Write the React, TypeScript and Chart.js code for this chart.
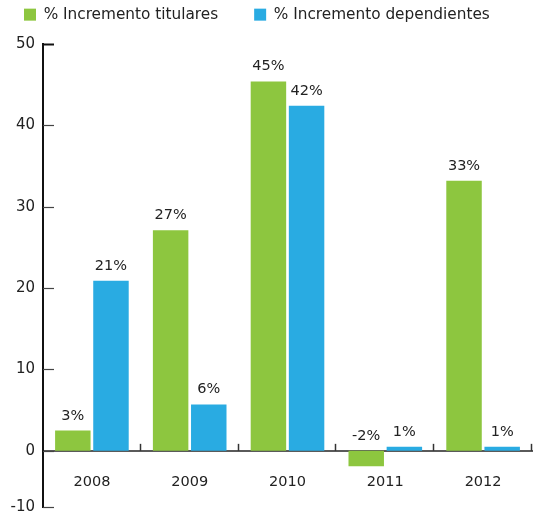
import React, { useEffect, useRef } from "react";
import { Chart, registerables } from "chart.js";
Chart.register(...registerables);

const categories = ["2008", "2009", "2010", "2011", "2012"];
const titulares = [2.5, 27.1, 45.4, -1.9, 33.2];
const dependientes = [20.9, 5.7, 42.4, 0.5, 0.5];
const seriesNames = ["% Incremento titulares", "% Incremento dependientes"];
const seriesColors = ["#8DC63F", "#29ABE2"];
const yTicks = [0, 10, 20, 30, 40, 50];
const yMin = -6.9;
const yMinLabel = "-10";
const yMax = 50;

const FONT = "DejaVu Sans";

const legendHeightPlugin = {
  id: "legendHeight",
  beforeLayout(chart: any) {
    const lg = chart.legend;
    if (lg && !lg._patchedFit) {
      const f = lg.fit;
      lg.fit = function (this: any) {
        f.call(this);
        this.height = 73;
      };
      lg._patchedFit = true;
    }
  },
};

const decorPlugin = {
  id: "decor",
  afterDatasetsDraw(chart: any) {
    const ctx = chart.ctx;
    const x = chart.scales.x;
    const y = chart.scales.y;
    const left = chart.chartArea.left;
    ctx.save();
    const zeroY = y.getPixelForValue(0);
    ctx.strokeStyle = "#333";
    ctx.lineWidth = 1.5;
    for (let i = 1; i <= categories.length; i++) {
      const px = Math.round(x.getPixelForValue(i - 0.5)) - 0.5;
      ctx.beginPath();
      ctx.moveTo(px, zeroY);
      ctx.lineTo(px, zeroY - 7);
      ctx.stroke();
    }
    y.ticks.forEach((t: any) => {
      const py = Math.round(y.getPixelForValue(t.value)) + 0.5;
      ctx.strokeStyle = t.value === yMax ? "#111" : "#444";
      ctx.lineWidth = t.value === yMax ? 2 : 1.2;
      ctx.beginPath();
      ctx.moveTo(left, py);
      ctx.lineTo(left + 11, py);
      ctx.stroke();
    });
    ctx.fillStyle = "#222";
    ctx.font = `14.5px "${FONT}"`;
    ctx.textAlign = "center";
    ctx.textBaseline = "alphabetic";
    chart.data.datasets.forEach((ds: any, di: number) => {
      const meta = chart.getDatasetMeta(di);
      meta.data.forEach((el: any, i: number) => {
        const v = ds.data[i];
        const top = Math.min(el.y, el.base);
        ctx.fillText(Math.round(v) + "%", el.x, top - 11);
      });
    });
    ctx.restore();
  },
};

export default function App() {
  const ref = useRef<HTMLCanvasElement | null>(null);
  useEffect(() => {
    if (!ref.current) return;
    const chart = new Chart(ref.current, {
      type: "bar",
      data: {
        labels: categories,
        datasets: [
          { label: seriesNames[0], data: titulares, backgroundColor: seriesColors[0] },
          { label: seriesNames[1], data: dependientes, backgroundColor: seriesColors[1] },
        ],
      },
      plugins: [legendHeightPlugin, decorPlugin],
      options: {
        animation: false,
        responsive: false,
        maintainAspectRatio: false,
        layout: { padding: { top: -29, right: 1, bottom: 0, left: -12 } },
        datasets: { bar: { categoryPercentage: 0.78, barPercentage: 0.93 } } as any,
        plugins: {
          legend: {
            position: "top",
            align: "start",
            labels: {
              boxWidth: 12,
              boxHeight: 12,
              padding: 36,
              color: "#222",
              font: { family: FONT, size: 15.3 },
            },
          } as any,
          tooltip: { enabled: false },
        },
        scales: {
          x: {
            position: { y: 0 } as any,
            grid: { display: false, drawTicks: false },
            border: { display: true, color: "#5a5a5a", width: 2 },
            ticks: { color: "#222", padding: 23, font: { family: FONT, size: 14.5 } },
          },
          y: {
            min: yMin,
            max: yMax,
            afterBuildTicks: (s: any) => {
              s.ticks = [yMin, ...yTicks].map((v) => ({ value: v }));
            },
            afterFit: (s: any) => {
              s.width = 55;
              s.paddingBottom = 9;
            },
            grid: { display: false, drawTicks: false },
            border: { display: true, color: "#111", width: 2 },
            ticks: {
              color: "#222",
              padding: 8,
              font: { family: FONT, size: 15 },
              callback: (v: any) => (v === yMin ? yMinLabel : String(v)),
            },
          },
        },
      },
    });
    return () => chart.destroy();
  }, []);
  return (
    <div style={{ position: "absolute", left: 0, top: 0, width: 533, height: 516 }}>
      <canvas ref={ref} width={533} height={516} style={{ width: 533, height: 516 }} />
    </div>
  );
}
